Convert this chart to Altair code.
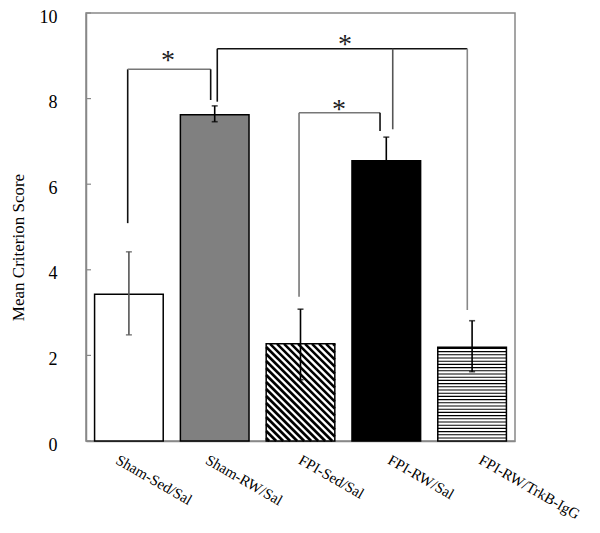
import altair as alt
import pandas as pd

# ---------------- data ----------------
groups = ["Sham-Sed/Sal", "Sham-RW/Sal", "FPI-Sed/Sal", "FPI-RW/Sal", "FPI-RW/TrkB-IgG"]
means = [3.43, 7.62, 2.27, 6.55, 2.19]
err_hi = [4.42, 7.83, 3.08, 7.10, 2.81]
err_lo = [2.48, 7.46, 1.43, 6.00, 1.62]
y_ticks = [0, 2, 4, 6, 8, 10]

# significance brackets (x in group units, 1 = centre of first bar)
seg_x = [0.986, 0.986, 1.953, 2.030, 2.030, 4.075, 4.944, 2.983, 2.983, 3.927]
seg_x2 = [0.986, 1.953, 1.953, 2.030, 4.944, 4.075, 4.944, 2.983, 3.927, 3.927]
seg_y = [5.09, 8.685, 8.685, 7.928, 9.166, 9.166, 9.166, 3.371, 7.671, 7.671]
seg_y2 = [8.685, 8.685, 7.967, 9.166, 9.166, 7.283, 3.061, 7.671, 7.671, 7.243]
star_x = [1.456, 3.519, 3.449]
star_y = [8.70, 9.07, 7.55]

# ---------------- styling ----------------
fills = ["white", "#808080", "white", "black", "white"]
err_colors = ["#555555", "black", "black", "black", "black"]
seg_colors = ["#111", "#777", "#111", "#111", "#111", "#555", "#888", "#777", "#777", "#111"]
label_pos = [0.90, 1.945, 3.03, 4.07, 5.13]
W, H = 429, 428
XMIN, XMAX, YMAX = 0.5, 5.5, 10.0
PXX = W / (XMAX - XMIN)
PXY = H / YMAX
HALF = 0.4
FONT = "Liberation Serif"

pos = list(range(1, len(groups) + 1))
bars = pd.DataFrame({"g": groups, "p": pos, "l": [p - HALF for p in pos],
                     "r": [p + HALF for p in pos], "m": means, "fill": fills,
                     "lo": err_lo, "hi": err_hi, "ec": err_colors})

# hatch patterns, generated inside each bar's rectangle
hatch = []
# diagonal for FPI-Sed/Sal
i = 2
bw = 2 * HALF * PXX
bh = means[i] * PXY
c = 3.0
while c < bw + bh:
    xa, xb = max(0.0, c - bh), min(bw, c)
    if xb > xa:
        hatch.append({"x": pos[i] - HALF + xa / PXX, "y": (c - xa) / PXY,
                      "x2": pos[i] - HALF + xb / PXX, "y2": (c - xb) / PXY, "w": 2.6})
    c += 7.0
# horizontal for FPI-RW/TrkB-IgG
i = 4
bh = means[i] * PXY
yy = 3.0
while yy < bh - 1:
    hatch.append({"x": pos[i] - HALF, "y": yy / PXY, "x2": pos[i] + HALF,
                  "y2": yy / PXY, "w": 1.1})
    yy += 3.2
hatch = pd.DataFrame(hatch)

segs = pd.DataFrame({"x": seg_x, "x2": seg_x2, "y": seg_y, "y2": seg_y2, "c": seg_colors})
stars = pd.DataFrame({"x": star_x, "y": star_y})
ticks = pd.DataFrame({"t": y_ticks})

xs = alt.Scale(domain=[XMIN, XMAX], nice=False, zero=False)
ys = alt.Scale(domain=[0, YMAX], nice=False, zero=False)

label_expr = "[" + ",".join("'" + g + "'" for g in groups) + "][round(datum.value)-1]"

x_axis = alt.Axis(values=label_pos, labelExpr=label_expr, title=None, grid=False,
                  ticks=False, labelAngle=30, labelAlign="left", labelBaseline="top",
                  labelPadding=11, labelFont=FONT, labelFontSize=15, labelColor="black",
                  labelFlush=False, labelOverlap=False, labelBound=False, labelLimit=300,
                  domainColor="#888888", domainWidth=1.5)
y_axis = alt.Axis(values=y_ticks, title="Mean Criterion Score", grid=False, ticks=False,
                  labelPadding=29, labelFont=FONT, labelFontSize=18, labelColor="black",
                  labelFlush=False, labelOverlap=False, labelOffset=4,
                  titleFont=FONT, titleFontSize=17, titleFontWeight="normal",
                  titleColor="black", titleX=-59, titleY=234,
                  domainColor="#888888", domainWidth=1.5)

bar_layer = alt.Chart(bars).mark_rect(stroke="black", strokeWidth=1.5).encode(
    x=alt.X("l:Q", scale=xs, axis=x_axis),
    x2="r:Q",
    y=alt.Y("m:Q", scale=ys, axis=y_axis),
    y2=alt.datum(0),
    fill=alt.Fill("fill:N", scale=None),
)

hatch_layer = alt.Chart(hatch).mark_rule(color="black").encode(
    x=alt.X("x:Q", scale=xs), x2="x2:Q",
    y=alt.Y("y:Q", scale=ys), y2="y2:Q",
    strokeWidth=alt.StrokeWidth("w:Q", scale=None),
)

err_rule = alt.Chart(bars).mark_rule(strokeWidth=1.6).encode(
    x=alt.X("p:Q", scale=xs), y=alt.Y("lo:Q", scale=ys), y2="hi:Q",
    color=alt.Color("ec:N", scale=None),
)
cap_hi = alt.Chart(bars).mark_tick(orient="horizontal", size=6, thickness=1.6).encode(
    x=alt.X("p:Q", scale=xs), y=alt.Y("hi:Q", scale=ys),
    color=alt.Color("ec:N", scale=None),
)
cap_lo = alt.Chart(bars).mark_tick(orient="horizontal", size=6, thickness=1.6).encode(
    x=alt.X("p:Q", scale=xs), y=alt.Y("lo:Q", scale=ys),
    color=alt.Color("ec:N", scale=None),
)

seg_layer = alt.Chart(segs).mark_rule(strokeWidth=1.6).encode(
    x=alt.X("x:Q", scale=xs), x2="x2:Q",
    y=alt.Y("y:Q", scale=ys), y2="y2:Q",
    color=alt.Color("c:N", scale=None),
)

star_layer = alt.Chart(stars).mark_text(text="*", font=FONT, fontSize=28,
                                        baseline="alphabetic", align="center",
                                        color="#222").encode(
    x=alt.X("x:Q", scale=xs), y=alt.Y("y:Q", scale=ys),
)

tick_layer = alt.Chart(ticks).mark_rule(color="#888888", strokeWidth=1.2).encode(
    y=alt.Y("t:Q", scale=ys), x=alt.value(0), x2=alt.value(5),
)

chart = alt.layer(
    bar_layer, hatch_layer, err_rule, cap_hi, cap_lo, seg_layer, star_layer, tick_layer
).properties(
    width=W, height=H,
    autosize=alt.AutoSizeParams(type="none"),
    padding={"left": 78, "top": 5, "right": 76, "bottom": 84},
).configure(
    background="white", font=FONT
).configure_view(
    stroke="#888888", strokeWidth=1.5
).configure_axis(
    labelFont=FONT, titleFont=FONT, labelColor="black", titleColor="black"
)

chart.save("out.html", embed_options={"renderer": "svg", "actions": False})
